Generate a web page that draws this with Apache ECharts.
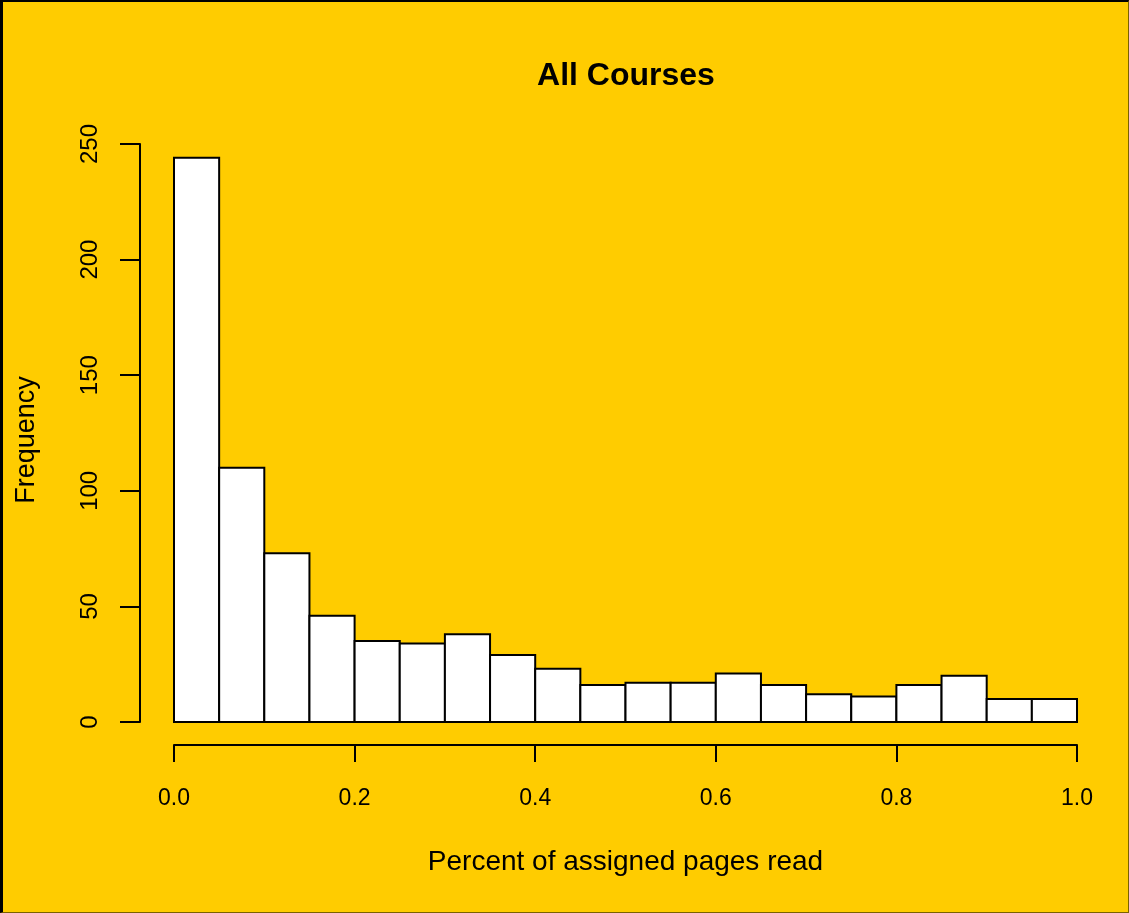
<!DOCTYPE html>
<html>
<head>
<meta charset="utf-8">
<script src="https://cdn.jsdelivr.net/npm/echarts@6/dist/echarts.min.js"></script>
<style>
  html, body { margin: 0; padding: 0; background: #ffcc00; }
  #wrap { position: relative; width: 1129px; height: 913px; }
  #chart { position: absolute; left: 0; top: 0; width: 1129px; height: 913px; }
  #frame { position: absolute; left: 0; top: 0; width: 1129px; height: 913px; box-sizing: border-box;
           border-top: 2px solid #000; border-left: 3px solid #000; border-right: 1px solid #7a6200; border-bottom: 1px solid #7a6200; pointer-events: none; }
</style>
</head>
<body>
<div id="wrap"><div id="chart"></div><div id="frame"></div></div>
<script>
const titleText = "All Courses";
const xAxisTitle = "Percent of assigned pages read";
const yAxisTitle = "Frequency";
const binStart = [0.00, 0.05, 0.10, 0.15, 0.20, 0.25, 0.30, 0.35, 0.40, 0.45, 0.50, 0.55, 0.60, 0.65, 0.70, 0.75, 0.80, 0.85, 0.90, 0.95];
const binEnd   = [0.05, 0.10, 0.15, 0.20, 0.25, 0.30, 0.35, 0.40, 0.45, 0.50, 0.55, 0.60, 0.65, 0.70, 0.75, 0.80, 0.85, 0.90, 0.95, 1.00];
const counts   = [244, 110, 73, 46, 35, 34, 38, 29, 23, 16, 17, 17, 21, 16, 12, 11, 16, 20, 10, 10];
const xTicks = [0.0, 0.2, 0.4, 0.6, 0.8, 1.0];
const yTicks = [0, 50, 100, 150, 200, 250];

const data = binStart.map((s, i) => [s, binEnd[i], counts[i]]);
const FONT = 'Liberation Sans, Arial, sans-serif';

const chart = echarts.init(document.getElementById('chart'), null, { renderer: 'canvas' });
chart.setOption({
  backgroundColor: '#ffcc00',
  animation: false,
  title: {
    text: titleText,
    left: 621, top: 55, textAlign: 'center',
    textStyle: { fontFamily: FONT, fontWeight: 'bold', fontSize: 32, color: '#000' }
  },
  grid: { left: 174, right: 52, top: 144, bottom: 191 },
  xAxis: {
    type: 'value', min: 0, max: 1, interval: 0.2,
    offset: 23,
    splitLine: { show: false },
    axisLine: { show: true, onZero: false, lineStyle: { color: '#000', width: 2 } },
    axisTick: { show: true, length: 17, lineStyle: { color: '#000', width: 2 } },
    axisLabel: { margin: 42, fontFamily: FONT, fontSize: 23, color: '#000',
      formatter: v => xTicks.some(t => Math.abs(t - v) < 1e-9) ? v.toFixed(1) : '' },
    name: xAxisTitle, nameLocation: 'middle', nameGap: 103,
    nameTextStyle: { fontFamily: FONT, fontSize: 28, color: '#000' }
  },
  yAxis: {
    type: 'value', min: 0, max: 250, interval: 50,
    offset: 34,
    splitLine: { show: false },
    axisLine: { show: true, onZero: false, lineStyle: { color: '#000', width: 2 } },
    axisTick: { show: true, length: 20, lineStyle: { color: '#000', width: 2 } },
    axisLabel: { rotate: 90, margin: 38, fontFamily: FONT, fontSize: 24, color: '#000',
      formatter: v => yTicks.includes(v) ? String(v) : '' },
    name: yAxisTitle, nameLocation: 'middle', nameGap: 100, nameRotate: 90,
    nameTextStyle: { fontFamily: FONT, fontSize: 27, color: '#000', padding: [0, 14, 0, 0] }
  },
  series: [{
    type: 'custom',
    data: data,
    encode: { x: [0, 1], y: 2 },
    clip: false,
    renderItem: function (params, api) {
      const p0 = api.coord([api.value(0), 0]);
      const p1 = api.coord([api.value(1), api.value(2)]);
      return {
        type: 'rect',
        shape: { x: p0[0], y: p1[1], width: p1[0] - p0[0], height: p0[1] - p1[1] },
        style: { fill: '#ffffff', stroke: '#000', lineWidth: 2 }
      };
    }
  }]
});
</script>
</body>
</html>
